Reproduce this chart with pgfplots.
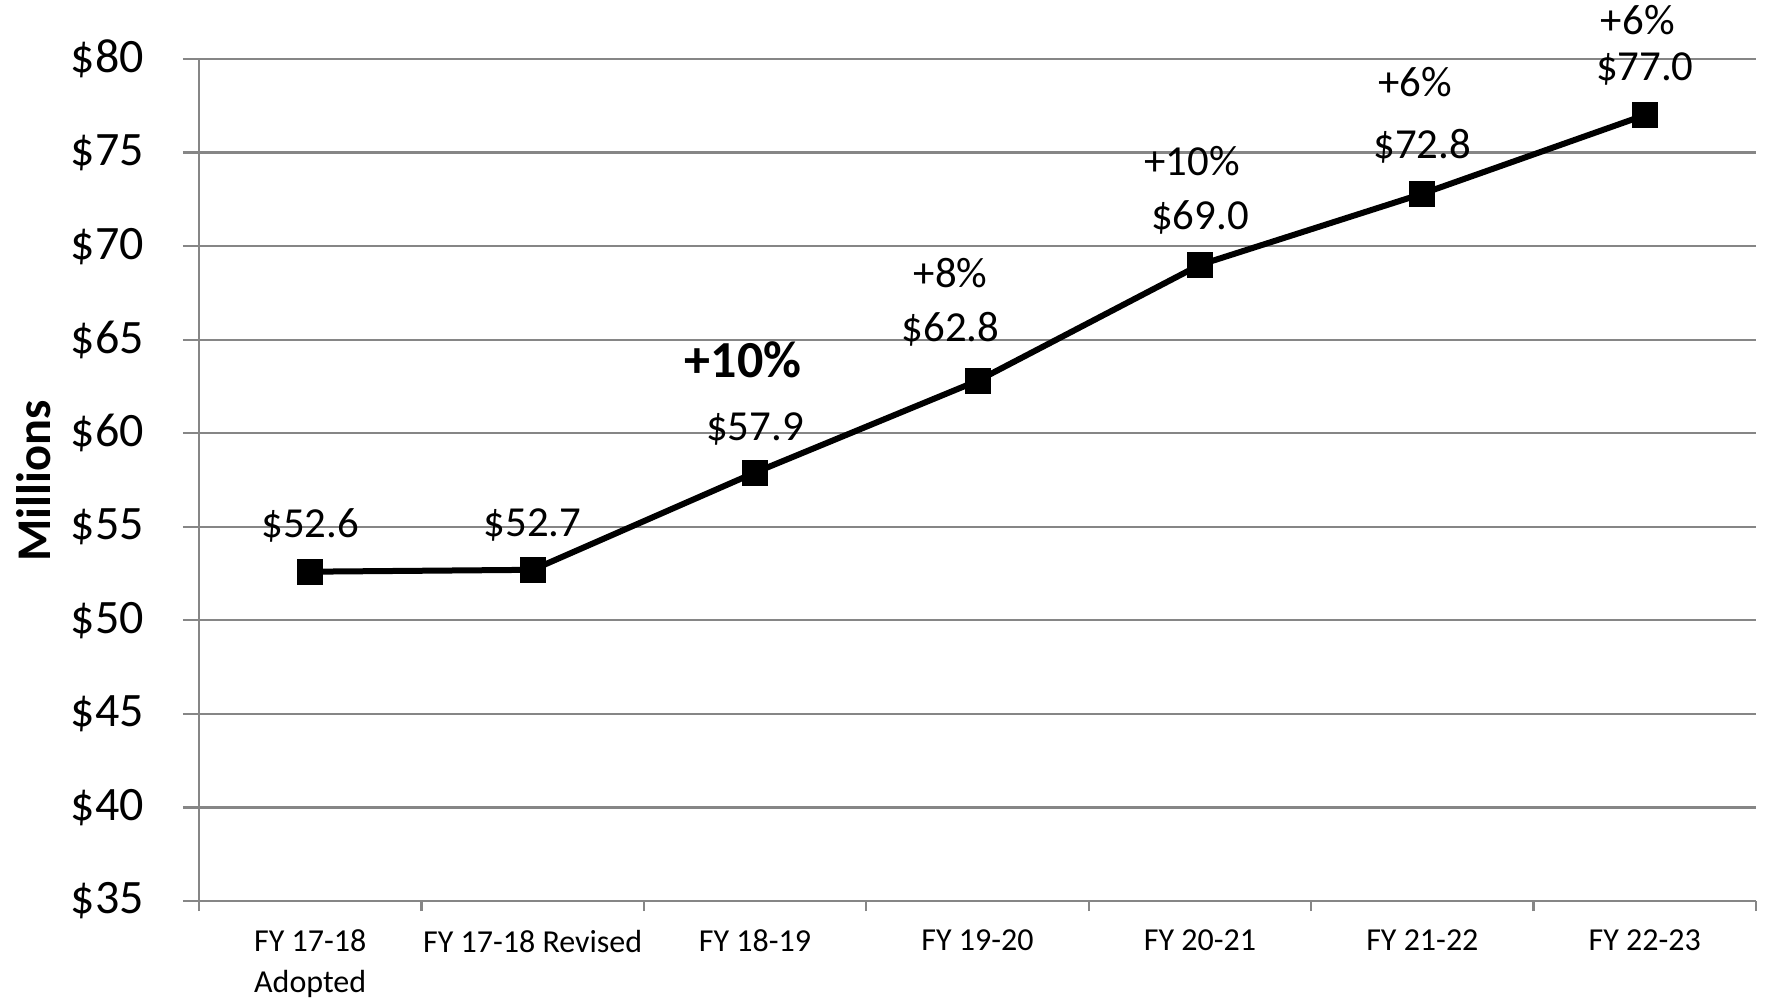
\documentclass[border=0pt]{standalone}
\usepackage{fontspec}
\setmainfont{Carlito}
\usepackage{pgfplots}
\pgfplotsset{compat=1.18}
\definecolor{gridgray}{HTML}{868686}
\begin{document}
\begin{tikzpicture}
\path[use as bounding box] (-99.5pt,-48.5pt) rectangle (785.5pt,450.5pt);
\begin{axis}[
  scale only axis, width=778.5pt, height=421pt,
  at={(0,0)}, anchor=south west,
  xmin=-0.5, xmax=6.5, ymin=35, ymax=80,
  axis x line*=bottom, axis y line*=left,
  axis line style={gridgray, line width=1.1pt},
  ymajorgrids, major grid style={gridgray, line width=1.1pt},
  ytick={35,40,...,80},
  yticklabels={\$35,\$40,\$45,\$50,\$55,\$60,\$65,\$70,\$75,\$80},
  yticklabel style={font=\fontsize{24}{28}\selectfont, xshift=-16pt},
  xtick={0,...,6},
  xticklabels={{FY 17-18\\Adopted},{FY 17-18 Revised},{FY 18-19},{FY 19-20},{FY 20-21},{FY 21-22},{FY 22-23}},
  xticklabel style={align=center, font=\fontsize{16}{20.2}\selectfont, yshift=-2.9pt},
  minor xtick={-0.5,0.5,...,6.5},
  tick align=outside,
  major tick length=8pt, minor tick length=5pt,
  major x tick style={draw=none},
  tick style={gridgray, line width=1.1pt},
  clip=false,
]
\addplot[black, line width=3pt, mark=square*, mark size=5pt, mark options={solid}]
  coordinates {(0,52.6) (1,52.7) (2,57.9) (3,62.8) (4,69.0) (5,72.8) (6,77.0)};
\begin{scope}[every node/.style={font=\fontsize{21.4}{25}\selectfont}]
\node[yshift=23pt] at (axis cs:0,52.6) {\$52.6};
\node[yshift=22.5pt] at (axis cs:1,52.7) {\$52.7};
\node[yshift=22pt] at (axis cs:2,57.9) {\$57.9};
\node[yshift=26pt, xshift=-13.5pt] at (axis cs:3,62.8) {\$62.8};
\node[yshift=54pt, xshift=-13.5pt] at (axis cs:3,62.8) {+8\%};
\node[yshift=23.5pt] at (axis cs:4,69.0) {\$69.0};
\node[yshift=52pt, xshift=-4pt] at (axis cs:4,69.0) {+10\%};
\node[yshift=23.5pt] at (axis cs:5,72.8) {\$72.8};
\node[yshift=56pt, xshift=-3.5pt] at (axis cs:5,72.8) {+6\%};
\node[yshift=23pt] at (axis cs:6,77.0) {\$77.0};
\node[yshift=47.5pt, xshift=-3.5pt] at (axis cs:6,77.0) {+6\%};
\end{scope}
\node[font=\bfseries\fontsize{26}{30}\selectfont, yshift=56.5pt, xshift=-6pt] at (axis cs:2,57.9) {+10\%};
\end{axis}
\node[rotate=90, font=\bfseries\fontsize{24.2}{28}\selectfont] at (-82.5pt,210pt) {Millions};
\end{tikzpicture}
\end{document}
